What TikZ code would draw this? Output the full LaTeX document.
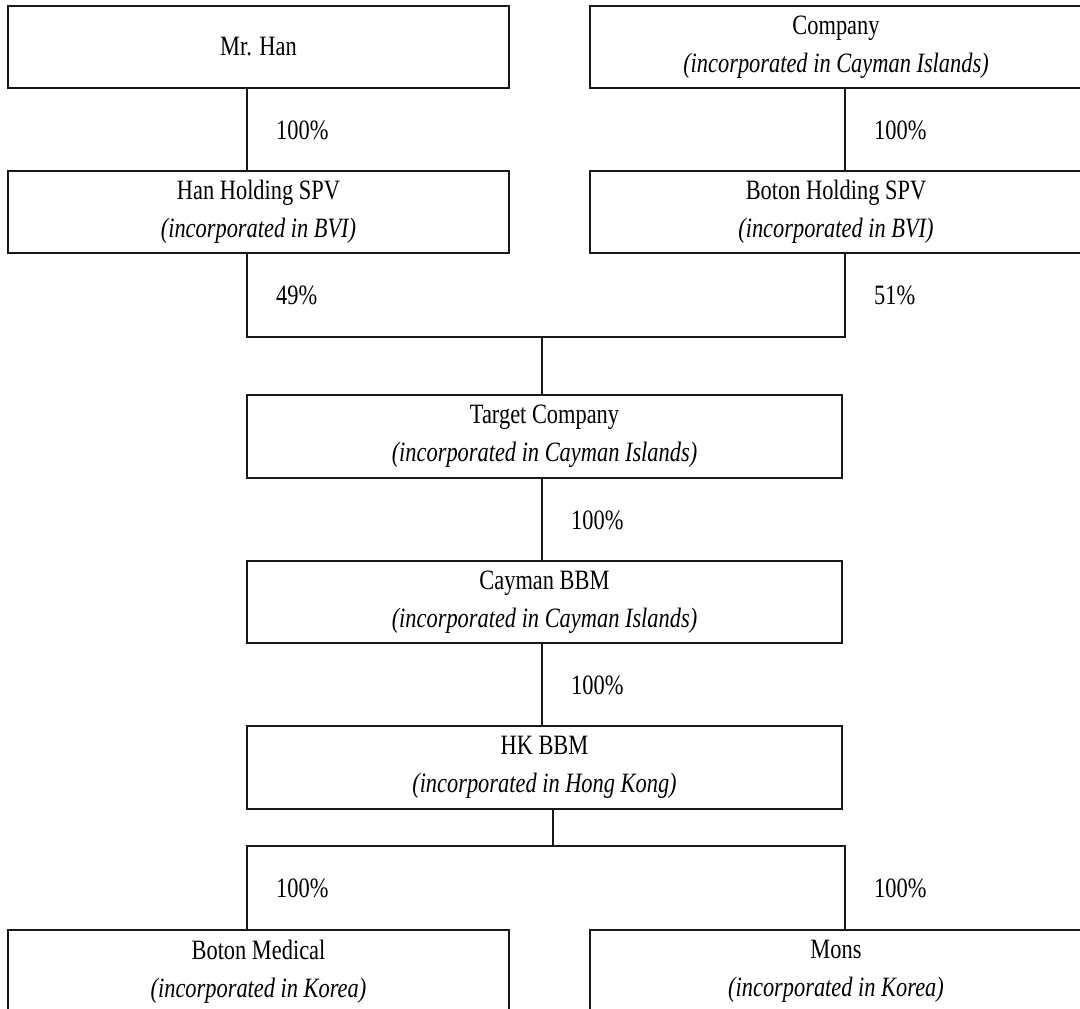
\documentclass[tikz,border=0pt]{standalone}
\usepackage{fontspec}
\setmainfont[FakeStretch=0.8]{Liberation Serif}
\begin{document}
\begin{tikzpicture}[x=1pt,y=-1pt,
  ent/.style={draw=black!90, line width=2pt, align=center, inner sep=0pt,
    font=\fontsize{28}{38}\selectfont},
  pct/.style={anchor=west, inner sep=0pt, font=\fontsize{28}{34}\selectfont},
  link/.style={draw=black!90, line width=2pt}]
\useasboundingbox (0,0) rectangle (1080,1009);
% boxes
\node[ent, minimum width=501pt, minimum height=82pt] (mrhan) at (258.5,47) {Mr. Han};
\node[ent, minimum width=492pt, minimum height=82pt] (company) at (836,47) {Company\\\textit{(incorporated in Cayman Islands)}};
\node[ent, minimum width=501pt, minimum height=82pt] (hanspv) at (258.5,212) {Han Holding SPV\\\textit{(incorporated in BVI)}};
\node[ent, minimum width=492pt, minimum height=82pt] (botonspv) at (836,212) {Boton Holding SPV\\\textit{(incorporated in BVI)}};
\node[ent, minimum width=595pt, minimum height=83pt] (target) at (544.5,436.5) {Target Company\\\textit{(incorporated in Cayman Islands)}};
\node[ent, minimum width=595pt, minimum height=82pt] (cayman) at (544.5,602) {Cayman BBM\\\textit{(incorporated in Cayman Islands)}};
\node[ent, minimum width=595pt, minimum height=83pt] (hk) at (544.5,767.5) {HK BBM\\\textit{(incorporated in Hong Kong)}};
\node[ent, minimum width=501pt, minimum height=83pt] (medical) at (258.5,971.5) {Boton Medical\\\textit{(incorporated in Korea)}};
\node[ent, minimum width=492pt, minimum height=83pt] (mons) at (836,971.5) {Mons\\\textit{(incorporated in Korea)}};
% columns and junctions
\coordinate (cL) at (247,0);
\coordinate (cR) at (845,0);
\coordinate (cM) at (542,0);
\coordinate (cH) at (553,0);
\coordinate (jTop) at (0,337);
\coordinate (jBot) at (0,846);
% connectors
\draw[link] (mrhan.south -| cL) -- (hanspv.north -| cL);
\draw[link] (company.south -| cR) -- (botonspv.north -| cR);
\draw[link] (hanspv.south -| cL) -- (jTop -| cL) -- (jTop -| cR) -- (botonspv.south -| cR);
\draw[link] (jTop -| cM) -- (target.north -| cM);
\draw[link] (target.south -| cM) -- (cayman.north -| cM);
\draw[link] (cayman.south -| cM) -- (hk.north -| cM);
\draw[link] (hk.south -| cH) -- (jBot -| cH);
\draw[link] (medical.north -| cL) -- (jBot -| cL) -- (jBot -| cR) -- (mons.north -| cR);
% labels
\node[pct] (p1) at (276,130) {100\%};
\node[pct] (p2) at (874,130) {100\%};
\node[pct] (p3) at (276,295) {49\%};
\node[pct] (p4) at (874,295) {51\%};
\node[pct] (p5) at (571,520) {100\%};
\node[pct] (p6) at (571,685) {100\%};
\node[pct] (p7) at (276,888) {100\%};
\node[pct] (p8) at (874,888) {100\%};
\end{tikzpicture}
\end{document}
